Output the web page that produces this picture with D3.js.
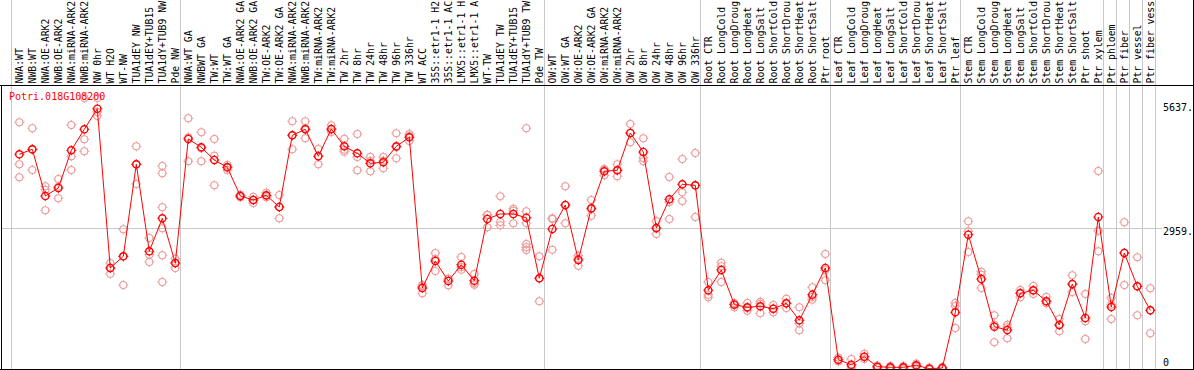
<!DOCTYPE html>
<html>
<head>
<meta charset="utf-8">
<script src="https://cdn.jsdelivr.net/npm/d3@7"></script>
<style>
body { margin: 0; background: #fff; }
svg { display: block; }
text { font-family: "DejaVu Sans Mono", monospace; font-size: 10px; }
</style>
</head>
<body>
<div id="chart"></div>
<script>
var geneId = "Potri.018G108200";

var samples = ["NWA:WT", "NWB:WT", "NWA:OE-ARK2", "NWB:OE-ARK2", "NWA:miRNA-ARK2", "NWB:miRNA-ARK2",
    "NW 0hr", "WT H2O", "WT-NW", "TUA1dEY NW", "TUA1dEY+TUB15 NW", "TUA1dY+TUB9 NW", "Pde NW",
    "NWA:WT GA", "NWBWT GA", "TW:WT", "TW:WT GA", "NWA:OE-ARK2 GA", "NWB:OE-ARK2 GA", "TW:OE-ARK2",
    "TW:OE-ARK2 GA", "NWA:miRNA-ARK2 GA", "NWB:miRNA-ARK2 GA", "TW:miRNA-ARK2", "TW:miRNA-ARK2 GA",
    "TW 2hr", "TW 8hr", "TW 24hr", "TW 48hr", "TW 96hr", "TW 336hr", "WT ACC",
    "35S::etr1-1 H2O", "35S::etr1-1 ACC", "LMX5::etr1-1 H2O", "LMX5::etr1-1 ACC", "WT-TW",
    "TUA1dEY TW", "TUA1dEY+TUB15 TW", "TUA1dY+TUB9 TW", "Pde TW",
    "OW:WT", "OW:WT GA", "OW:OE-ARK2", "OW:OE-ARK2 GA", "OW:miRNA-ARK2", "OW:miRNA-ARK2 GA",
    "OW 2hr", "OW 8hr", "OW 24hr", "OW 48hr", "OW 96hr", "OW 336hr",
    "Root CTR", "Root LongCold", "Root LongDrought", "Root LongHeat", "Root LongSalt",
    "Root ShortCold", "Root ShortDrought", "Root ShortHeat", "Root ShortSalt", "Ptr root",
    "Leaf CTR", "Leaf LongCold", "Leaf LongDrought", "Leaf LongHeat", "Leaf LongSalt",
    "Leaf ShortCold", "Leaf ShortDrought", "Leaf ShortHeat", "Leaf ShortSalt", "Ptr leaf",
    "Stem CTR", "Stem LongCold", "Stem LongDrought", "Stem LongHeat", "Stem LongSalt",
    "Stem ShortCold", "Stem ShortDrought", "Stem ShortHeat", "Stem ShortSalt", "Ptr shoot",
    "Ptr xylem", "Ptr phloem", "Ptr fiber", "Ptr vessel", "Ptr fiber vessel"];

var means = [4479, 4582, 3621, 3785, 4561, 4993, 5417, 2140, 2380, 4273, 2483, 3162, 2242,
    4794, 4623, 4361, 4211, 3621, 3539, 3635, 3395, 4870, 4993, 4438, 4999, 4643, 4499, 4294,
    4314, 4643, 4828, 1728, 2284, 1872, 2207, 1878, 3148, 3251, 3251, 3174, 1928,
    2942, 3436, 2304, 3368, 4129, 4150, 4917, 4526, 2963, 3553, 3862, 3841,
    1681, 2098, 1385, 1331, 1352, 1302, 1413, 1064, 1590, 2140,
    253, 150, 315, 109, 97, 97, 138, 68, 82, 1228,
    2825, 1913, 932, 864, 1619, 1681, 1455, 967, 1810, 1111,
    3189, 1337, 2448, 1763, 1269];

var replicates = [
    [5137, 4273, 4006], [5014, 4575, 4156], [3820, 3750, 3327], [3971, 3812, 3574],
    [5082, 4438, 4156], [5637, 4787, 4540], [5637, 5349, 5267], [2242, 2140, 2022],
    [2936, 2380, 1790], [4643, 4273, 3868], [2757, 2413, 2263],
    [4238, 4088, 3388, 2956, 2401, 1852], [2331, 2242, 2140],
    [5219, 4826, 4335], [4931, 4602, 4335], [4794, 4450, 3841], [4259, 4217, 4156],
    [3648, 3621, 3594], [3606, 3539, 3477], [3689, 3621, 3596], [3641, 3395, 3162],
    [5158, 4870, 4582], [5158, 5014, 4808], [4588, 4444, 4273], [5075, 4987, 4938],
    [4800, 4573, 4532], [4896, 4423, 4150], [4423, 4341, 4129], [4423, 4347, 4191],
    [4911, 4623, 4396], [4896, 4855, 4752], [1763, 1790, 1619], [2448, 2325, 2078],
    [1919, 1913, 1784], [2366, 2160, 2105], [2016, 1831, 1796], [3230, 3236, 2977],
    [3615, 3086, 3018], [3360, 3318, 3059], [5014, 3306, 3065, 2633, 2565, 2510],
    [2380, 1928, 1455],
    [3148, 3162, 2516], [3820, 3430, 3059], [2393, 2331, 2187], [3539, 3353, 3216],
    [4176, 4162, 4047], [4273, 4150, 4026], [5102, 4917, 4726], [4808, 4403, 4335],
    [3100, 2948, 2839], [4012, 3497, 3148], [4382, 3697, 3518], [4506, 3837, 3189],
    [1852, 1590, 1537], [2249, 2175, 1852], [1420, 1399, 1331], [1420, 1317, 1261],
    [1446, 1405, 1208], [1378, 1302, 1228], [1508, 1413, 1317], [1331, 1002, 858],
    [1743, 1543, 1487], [2428, 2098, 1887],
    [298, 247, 216], [267, 123, 82], [376, 309, 267], [134, 103, 82], [123, 93, 72],
    [123, 93, 72], [175, 123, 103], [93, 62, 51], [103, 82, 62], [1420, 1358, 905],
    [3100, 2895, 2469], [2063, 2002, 1728], [1166, 973, 611], [973, 920, 693],
    [1687, 1625, 1537], [1769, 1677, 1605], [1543, 1461, 1413], [1090, 967, 837],
    [1989, 1800, 1646], [1605, 1043, 679],
    [4135, 2907, 2483], [1522, 1385, 1090], [3080, 2448, 1790], [2360, 1763, 1166],
    [1722, 1269, 796]];

// index of the first sample of each block (gray separators)
var groupStarts = [0, 13, 41, 53, 63, 73, 84, 85, 86, 87, 88];
var yTicks = [0, 2959, 5637];
var gridValues = [2959];

var w = 1194, h = 370;
var plotTop = 85.5, plotBottom = 369.5;
var maxChars = 14;   // label strip only holds this many characters

var svg = d3.select("#chart").append("svg").attr("width", w).attr("height", h);
svg.append("rect").attr("width", w).attr("height", h).attr("fill", "#fff");

var x = d3.scaleLinear().domain([0, samples.length - 1]).range([19.3, 1150.3]);
var y = d3.scaleLinear().domain([0, 5637]).range([372, 98]);

// vertical separators
svg.selectAll("line.vgrid").data(groupStarts).enter().append("line")
    .attr("class", "vgrid")
    .attr("x1", function (d) { return Math.round(x(d) - 8.6) + 0.5; })
    .attr("x2", function (d) { return Math.round(x(d) - 8.6) + 0.5; })
    .attr("y1", 0).attr("y2", plotBottom)
    .attr("stroke", "#c8c8c8").attr("stroke-width", 1);

// horizontal grid line
svg.selectAll("line.hgrid").data(gridValues).enter().append("line")
    .attr("class", "hgrid")
    .attr("x1", 2).attr("x2", 1162)
    .attr("y1", function (d) { return Math.round(y(d)) + 0.5; })
    .attr("y2", function (d) { return Math.round(y(d)) + 0.5; })
    .attr("stroke", "#c8c8c8").attr("stroke-width", 1);

// sample labels, rotated and clipped to the strip like the original
svg.selectAll("text.lab").data(samples).enter().append("text")
    .attr("class", "lab")
    .attr("transform", function (d, i) { return "translate(" + x(i) + ",83.5) rotate(-90)"; })
    .attr("dy", "0.35em")
    .attr("fill", "#000")
    .style("font-size", "9.8px")
    .text(function (d) { return d.length > maxChars ? d.slice(0, maxChars).trim() : d; })
    .append("title").text(function (d) { return d; });

// frame
svg.append("line").attr("x1", 0).attr("x2", w).attr("y1", plotTop).attr("y2", plotTop).attr("stroke", "#000");
svg.append("line").attr("x1", 0).attr("x2", w).attr("y1", plotBottom).attr("y2", plotBottom).attr("stroke", "#000");
svg.append("line").attr("x1", 1.5).attr("x2", 1.5).attr("y1", plotTop).attr("y2", plotBottom).attr("stroke", "#000");
svg.append("line").attr("x1", 1193.5).attr("x2", 1193.5).attr("y1", 0).attr("y2", h).attr("stroke", "#000");

svg.append("defs").append("clipPath").attr("id", "plotClip")
    .append("rect").attr("x", 2).attr("y", plotTop + 0.5).attr("width", 1160).attr("height", plotBottom - plotTop - 1);

var plot = svg.append("g").attr("clip-path", "url(#plotClip)");

var marker = "M0,-5V-3.5M0,3.5V5M-5,0H-3.5M3.5,0H5";

// replicate points
var repPts = [];
replicates.forEach(function (arr, i) {
    arr.forEach(function (v) { repPts.push({ i: i, v: v }); });
});
var reps = plot.selectAll("g.rep").data(repPts).enter().append("g")
    .attr("class", "rep")
    .attr("transform", function (d) { return "translate(" + x(d.i) + "," + y(d.v) + ")"; });
reps.append("circle").attr("r", 3.5).attr("fill", "none").attr("stroke", "#ee9a9a").attr("stroke-width", 1.1);
reps.append("path").attr("d", marker).attr("stroke", "#ee9a9a").attr("stroke-width", 1);

// mean line
var line = d3.line()
    .x(function (d, i) { return x(i); })
    .y(function (d) { return y(d); });
plot.append("path").datum(means).attr("d", line)
    .attr("fill", "none").attr("stroke", "#ff0000").attr("stroke-width", 1);

var mpts = plot.selectAll("g.mean").data(means).enter().append("g")
    .attr("class", "mean")
    .attr("transform", function (d, i) { return "translate(" + x(i) + "," + y(d) + ")"; });
mpts.append("circle").attr("r", 3.6).attr("fill", "none").attr("stroke", "#ff0000").attr("stroke-width", 1.4);
mpts.append("path").attr("d", marker).attr("stroke", "#ff0000").attr("stroke-width", 1);

// title
svg.append("text").attr("x", 9).attr("y", 100).attr("fill", "#ff0000").text(geneId);

// right value axis
var labelShift = { 0: -10, 2959: 3.5, 5637: 9 };
var axis = d3.axisRight(y).tickValues(yTicks).tickSize(0).tickPadding(0)
    .tickFormat(function (d) { return d === 0 ? "0" : d + "."; });
var ax = svg.append("g").attr("transform", "translate(1163,0)").call(axis);
ax.select(".domain").remove();
ax.selectAll("text")
    .attr("y", function (d) { return labelShift[d]; })
    .attr("fill", "#000")
    .style("font-family", "'DejaVu Sans Mono', monospace")
    .style("font-size", "10px");
</script>
</body>
</html>
